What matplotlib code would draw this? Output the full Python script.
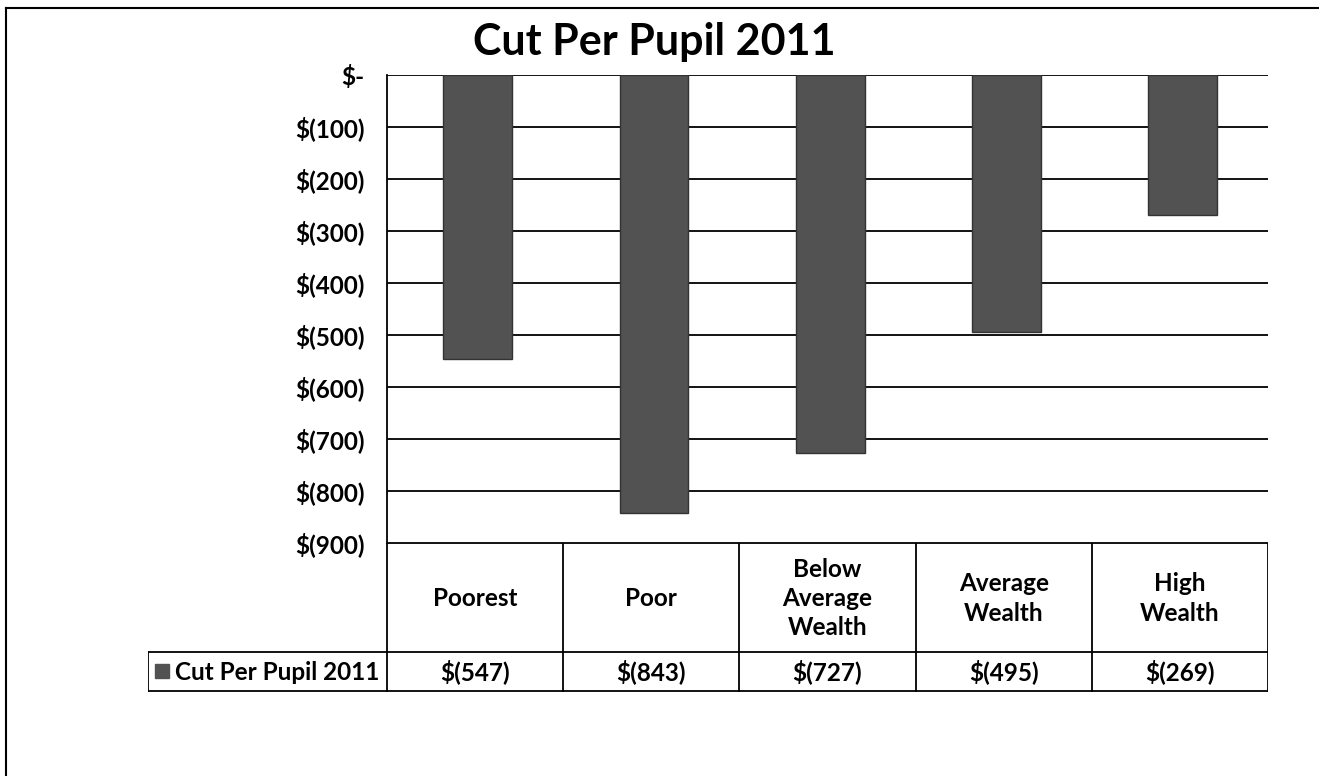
import matplotlib.pyplot as plt
import numpy as np

plt.rcParams["font.family"] = ["Lato", "DejaVu Sans"]
plt.rcParams["font.weight"] = "bold"

categories = ["Poorest", "Poor", "Below\nAverage\nWealth", "Average\nWealth", "High\nWealth"]
cut_per_pupil = [-547, -843, -727, -495, -269]
series_name = "Cut Per Pupil 2011"
y_ticks = [0, -100, -200, -300, -400, -500, -600, -700, -800, -900]

W, H = 1319, 776
bar_color = "#525252"
fs = 17.5


def money(v):
    if v == 0:
        return "$-"
    return "$({:d})".format(int(abs(v)))


def fig_rect(x0, y0, x1, y1):
    # pixel box (top-left origin) -> figure fraction rect
    return [x0 / W, 1 - y1 / H, (x1 - x0) / W, (y1 - y0) / H]


fig = plt.figure(figsize=(W / 100, H / 100), dpi=100)

# outer frame (left and top edges only visible)
fig.add_artist(plt.Line2D([6 / W, 6 / W], [0, 1 - 8 / H], color="black", lw=1.5))
fig.add_artist(plt.Line2D([6 / W, 1], [1 - 8 / H, 1 - 8 / H], color="black", lw=1.5))

# main plot
px_left, px_right, px_top, px_bot = 387, 1268, 75, 543
ax = fig.add_axes(fig_rect(px_left, px_top, px_right, px_bot))
x = np.arange(len(categories))
ax.bar(x + 0.015, cut_per_pupil, width=0.39, color=bar_color, edgecolor="#333333", lw=1, zorder=3)
ax.set_xlim(-0.5, len(categories) - 0.5)
ax.set_ylim(-900, 0)
ax.set_yticks(y_ticks)
ax.set_yticklabels([money(v) for v in y_ticks], fontsize=fs, fontweight="bold")
ax.tick_params(axis="y", length=0, pad=16)
ax.set_xticks([])
for v in y_ticks:
    ax.axhline(v, color="black", lw=1.3, zorder=1)
for s in ["top", "right", "bottom"]:
    ax.spines[s].set_visible(False)
ax.spines["left"].set_linewidth(1.3)

fig.text(654 / W, 1 - 42 / H, "Cut Per Pupil 2011",
         fontsize=31, fontweight="bold", ha="center", va="center")

# data table below
tab_left, tab_mid, tab_bot = 148, 652, 692
tax = fig.add_axes(fig_rect(tab_left, px_bot, px_right, tab_bot))
tax.set_xlim(tab_left, px_right)
tax.set_ylim(tab_bot, px_bot)
tax.axis("off")
lw = 1.3
col_w = (px_right - px_left) / len(categories)
edges = [px_left + i * col_w for i in range(len(categories) + 1)]
tax.plot([px_left, px_right], [px_bot, px_bot], color="black", lw=lw)
tax.plot([tab_left, px_right], [tab_mid, tab_mid], color="black", lw=lw)
tax.plot([tab_left, px_right], [tab_bot - 1, tab_bot - 1], color="black", lw=lw)
tax.plot([tab_left, tab_left], [tab_mid, tab_bot], color="black", lw=lw)
for e in edges:
    tax.plot([e, e], [px_bot, tab_bot], color="black", lw=lw)
for i, (c, v) in enumerate(zip(categories, cut_per_pupil)):
    cx = edges[i] + col_w / 2
    tax.text(cx, (px_bot + tab_mid) / 2 + 1, c, ha="center", va="center",
             fontsize=fs, fontweight="bold", linespacing=1.33)
    tax.text(cx, (tab_mid + tab_bot) / 2, money(v), ha="center", va="center",
             fontsize=fs, fontweight="bold")
# legend key
tax.add_patch(plt.Rectangle((155, 664), 14, 14, color=bar_color))
tax.text(175, (tab_mid + tab_bot) / 2, series_name, ha="left", va="center",
         fontsize=fs, fontweight="bold")

fig.savefig("out.png", dpi=100)
